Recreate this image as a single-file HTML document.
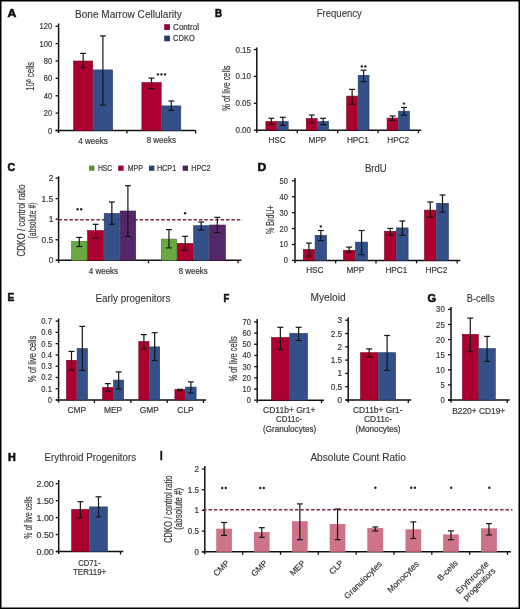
<!DOCTYPE html><html><head><meta charset="utf-8"><style>html,body{margin:0;padding:0;background:#fff;}svg{display:block;will-change:transform;}</style></head><body>
<svg width="520" height="609" viewBox="0 0 520 609" font-family='"Liberation Sans", sans-serif'>
<rect x="0" y="0" width="520" height="609" fill="#fff"/>
<text x="7.40" y="17.10" font-size="11.05" fill="#111" font-weight="bold" textLength="8.80" lengthAdjust="spacingAndGlyphs" stroke="#111" stroke-width="0.6" stroke-linejoin="round">A</text>
<text x="75.00" y="18.20" font-size="10.9" fill="#3a3a3a" textLength="106.80" lengthAdjust="spacingAndGlyphs" stroke="#333" stroke-width="0.12">Bone Marrow Cellularity</text>
<rect x="164.20" y="24.20" width="5.70" height="5.70" fill="#910028"/>
<rect x="164.20" y="35.60" width="5.70" height="5.70" fill="#263c67"/>
<text x="173.10" y="29.80" font-size="8.2" fill="#3a3a3a" textLength="25.90" lengthAdjust="spacingAndGlyphs" stroke="#3a3a3a" stroke-width="0.2">Control</text>
<text x="173.10" y="41.00" font-size="8.2" fill="#3a3a3a" textLength="21.70" lengthAdjust="spacingAndGlyphs" stroke="#3a3a3a" stroke-width="0.2">CDKO</text>
<line x1="58.60" y1="23.50" x2="58.60" y2="133.00" stroke="#111" stroke-width="1.5"/>
<line x1="55.60" y1="130.50" x2="58.60" y2="130.50" stroke="#111" stroke-width="1.3"/>
<text x="52.20" y="133.50" font-size="8.4" fill="#3a3a3a" text-anchor="end" textLength="4.20" lengthAdjust="spacingAndGlyphs" stroke="#3a3a3a" stroke-width="0.2">0</text>
<line x1="55.60" y1="113.12" x2="58.60" y2="113.12" stroke="#111" stroke-width="1.3"/>
<text x="52.20" y="116.12" font-size="8.4" fill="#3a3a3a" text-anchor="end" textLength="8.41" lengthAdjust="spacingAndGlyphs" stroke="#3a3a3a" stroke-width="0.2">20</text>
<line x1="55.60" y1="95.74" x2="58.60" y2="95.74" stroke="#111" stroke-width="1.3"/>
<text x="52.20" y="98.74" font-size="8.4" fill="#3a3a3a" text-anchor="end" textLength="8.41" lengthAdjust="spacingAndGlyphs" stroke="#3a3a3a" stroke-width="0.2">40</text>
<line x1="55.60" y1="78.36" x2="58.60" y2="78.36" stroke="#111" stroke-width="1.3"/>
<text x="52.20" y="81.36" font-size="8.4" fill="#3a3a3a" text-anchor="end" textLength="8.41" lengthAdjust="spacingAndGlyphs" stroke="#3a3a3a" stroke-width="0.2">60</text>
<line x1="55.60" y1="60.98" x2="58.60" y2="60.98" stroke="#111" stroke-width="1.3"/>
<text x="52.20" y="63.98" font-size="8.4" fill="#3a3a3a" text-anchor="end" textLength="8.41" lengthAdjust="spacingAndGlyphs" stroke="#3a3a3a" stroke-width="0.2">80</text>
<line x1="55.60" y1="43.60" x2="58.60" y2="43.60" stroke="#111" stroke-width="1.3"/>
<text x="52.20" y="46.60" font-size="8.4" fill="#3a3a3a" text-anchor="end" textLength="12.61" lengthAdjust="spacingAndGlyphs" stroke="#3a3a3a" stroke-width="0.2">100</text>
<line x1="55.60" y1="26.22" x2="58.60" y2="26.22" stroke="#111" stroke-width="1.3"/>
<text x="52.20" y="29.22" font-size="8.4" fill="#3a3a3a" text-anchor="end" textLength="12.61" lengthAdjust="spacingAndGlyphs" stroke="#3a3a3a" stroke-width="0.2">120</text>
<line x1="55.60" y1="130.50" x2="195.80" y2="130.50" stroke="#111" stroke-width="1.5"/>
<line x1="126.90" y1="130.50" x2="126.90" y2="133.50" stroke="#111" stroke-width="1.3"/>
<line x1="195.60" y1="130.50" x2="195.60" y2="133.50" stroke="#111" stroke-width="1.3"/>
<rect x="73.60" y="61.00" width="19.10" height="69.50" fill="#ab0030" stroke="#7b0022" stroke-width="0.6"/>
<rect x="93.30" y="69.90" width="19.30" height="60.60" fill="#33508a" stroke="#243963" stroke-width="0.6"/>
<rect x="141.90" y="82.60" width="19.30" height="47.90" fill="#ab0030" stroke="#7b0022" stroke-width="0.6"/>
<rect x="161.80" y="105.90" width="19.00" height="24.60" fill="#33508a" stroke="#243963" stroke-width="0.6"/>
<line x1="83.15" y1="53.40" x2="83.15" y2="67.60" stroke="#161616" stroke-width="1.2"/>
<line x1="80.20" y1="53.40" x2="86.10" y2="53.40" stroke="#161616" stroke-width="1.2"/>
<line x1="80.20" y1="67.60" x2="86.10" y2="67.60" stroke="#161616" stroke-width="1.2"/>
<line x1="102.90" y1="35.90" x2="102.90" y2="105.20" stroke="#161616" stroke-width="1.2"/>
<line x1="99.95" y1="35.90" x2="105.85" y2="35.90" stroke="#161616" stroke-width="1.2"/>
<line x1="99.95" y1="105.20" x2="105.85" y2="105.20" stroke="#161616" stroke-width="1.2"/>
<line x1="151.50" y1="78.10" x2="151.50" y2="88.60" stroke="#161616" stroke-width="1.2"/>
<line x1="148.55" y1="78.10" x2="154.45" y2="78.10" stroke="#161616" stroke-width="1.2"/>
<line x1="148.55" y1="88.60" x2="154.45" y2="88.60" stroke="#161616" stroke-width="1.2"/>
<line x1="171.30" y1="101.00" x2="171.30" y2="110.40" stroke="#161616" stroke-width="1.2"/>
<line x1="168.35" y1="101.00" x2="174.25" y2="101.00" stroke="#161616" stroke-width="1.2"/>
<line x1="168.35" y1="110.40" x2="174.25" y2="110.40" stroke="#161616" stroke-width="1.2"/>
<circle cx="157.90" cy="74.40" r="1.2" fill="#222"/>
<circle cx="161.50" cy="74.40" r="1.2" fill="#222"/>
<circle cx="165.10" cy="74.40" r="1.2" fill="#222"/>
<text x="78.30" y="143.60" font-size="8.6" fill="#3a3a3a" textLength="29.50" lengthAdjust="spacingAndGlyphs" stroke="#3a3a3a" stroke-width="0.2">4 weeks</text>
<text x="146.70" y="143.40" font-size="8.6" fill="#3a3a3a" textLength="29.30" lengthAdjust="spacingAndGlyphs" stroke="#3a3a3a" stroke-width="0.2">8 weeks</text>
<text x="33.6" y="76.35" font-size="11" stroke="#3a3a3a" stroke-width="0.2" fill="#3a3a3a" text-anchor="middle" transform="rotate(-90 33.6 76.35)" textLength="28.9" lengthAdjust="spacingAndGlyphs">10<tspan font-size="8" dy="-2.9">6</tspan><tspan dy="2.9"> cells</tspan></text>
<text x="214.90" y="16.90" font-size="11.05" fill="#111" font-weight="bold" textLength="7.00" lengthAdjust="spacingAndGlyphs" stroke="#111" stroke-width="0.6" stroke-linejoin="round">B</text>
<text x="316.70" y="17.30" font-size="10.46" fill="#3a3a3a" textLength="45.20" lengthAdjust="spacingAndGlyphs" stroke="#333" stroke-width="0.12">Frequency</text>
<line x1="256.80" y1="47.50" x2="256.80" y2="132.70" stroke="#111" stroke-width="1.5"/>
<line x1="253.80" y1="130.20" x2="256.80" y2="130.20" stroke="#111" stroke-width="1.3"/>
<text x="251.00" y="133.20" font-size="8.4" fill="#3a3a3a" text-anchor="end" textLength="15.53" lengthAdjust="spacingAndGlyphs" stroke="#3a3a3a" stroke-width="0.2">0.00</text>
<line x1="253.80" y1="103.30" x2="256.80" y2="103.30" stroke="#111" stroke-width="1.3"/>
<text x="251.00" y="106.30" font-size="8.4" fill="#3a3a3a" text-anchor="end" textLength="15.53" lengthAdjust="spacingAndGlyphs" stroke="#3a3a3a" stroke-width="0.2">0.05</text>
<line x1="253.80" y1="76.40" x2="256.80" y2="76.40" stroke="#111" stroke-width="1.3"/>
<text x="251.00" y="79.40" font-size="8.4" fill="#3a3a3a" text-anchor="end" textLength="15.53" lengthAdjust="spacingAndGlyphs" stroke="#3a3a3a" stroke-width="0.2">0.10</text>
<line x1="253.80" y1="49.50" x2="256.80" y2="49.50" stroke="#111" stroke-width="1.3"/>
<text x="251.00" y="52.50" font-size="8.4" fill="#3a3a3a" text-anchor="end" textLength="15.53" lengthAdjust="spacingAndGlyphs" stroke="#3a3a3a" stroke-width="0.2">0.15</text>
<line x1="256.80" y1="130.20" x2="421.30" y2="130.20" stroke="#111" stroke-width="1.5"/>
<line x1="297.30" y1="130.20" x2="297.30" y2="133.20" stroke="#111" stroke-width="1.3"/>
<line x1="337.70" y1="130.20" x2="337.70" y2="133.20" stroke="#111" stroke-width="1.3"/>
<line x1="378.00" y1="130.20" x2="378.00" y2="133.20" stroke="#111" stroke-width="1.3"/>
<line x1="418.40" y1="130.20" x2="418.40" y2="133.20" stroke="#111" stroke-width="1.3"/>
<rect x="265.90" y="121.50" width="10.85" height="8.70" fill="#ab0030" stroke="#7b0022" stroke-width="0.6"/>
<rect x="277.35" y="121.50" width="10.85" height="8.70" fill="#33508a" stroke="#243963" stroke-width="0.6"/>
<line x1="271.32" y1="118.30" x2="271.32" y2="124.40" stroke="#161616" stroke-width="1.2"/>
<line x1="268.38" y1="118.30" x2="274.27" y2="118.30" stroke="#161616" stroke-width="1.2"/>
<line x1="268.38" y1="124.40" x2="274.27" y2="124.40" stroke="#161616" stroke-width="1.2"/>
<line x1="282.78" y1="117.30" x2="282.78" y2="125.40" stroke="#161616" stroke-width="1.2"/>
<line x1="279.83" y1="117.30" x2="285.73" y2="117.30" stroke="#161616" stroke-width="1.2"/>
<line x1="279.83" y1="125.40" x2="285.73" y2="125.40" stroke="#161616" stroke-width="1.2"/>
<rect x="306.30" y="118.60" width="10.85" height="11.60" fill="#ab0030" stroke="#7b0022" stroke-width="0.6"/>
<rect x="317.75" y="121.50" width="10.85" height="8.70" fill="#33508a" stroke="#243963" stroke-width="0.6"/>
<line x1="311.72" y1="115.00" x2="311.72" y2="123.00" stroke="#161616" stroke-width="1.2"/>
<line x1="308.77" y1="115.00" x2="314.67" y2="115.00" stroke="#161616" stroke-width="1.2"/>
<line x1="308.77" y1="123.00" x2="314.67" y2="123.00" stroke="#161616" stroke-width="1.2"/>
<line x1="323.18" y1="118.30" x2="323.18" y2="124.60" stroke="#161616" stroke-width="1.2"/>
<line x1="320.23" y1="118.30" x2="326.12" y2="118.30" stroke="#161616" stroke-width="1.2"/>
<line x1="320.23" y1="124.60" x2="326.12" y2="124.60" stroke="#161616" stroke-width="1.2"/>
<rect x="346.70" y="96.10" width="10.85" height="34.10" fill="#ab0030" stroke="#7b0022" stroke-width="0.6"/>
<rect x="358.15" y="75.30" width="10.85" height="54.90" fill="#33508a" stroke="#243963" stroke-width="0.6"/>
<line x1="352.12" y1="89.40" x2="352.12" y2="104.20" stroke="#161616" stroke-width="1.2"/>
<line x1="349.18" y1="89.40" x2="355.07" y2="89.40" stroke="#161616" stroke-width="1.2"/>
<line x1="349.18" y1="104.20" x2="355.07" y2="104.20" stroke="#161616" stroke-width="1.2"/>
<line x1="363.58" y1="70.20" x2="363.58" y2="81.70" stroke="#161616" stroke-width="1.2"/>
<line x1="360.63" y1="70.20" x2="366.53" y2="70.20" stroke="#161616" stroke-width="1.2"/>
<line x1="360.63" y1="81.70" x2="366.53" y2="81.70" stroke="#161616" stroke-width="1.2"/>
<rect x="387.10" y="118.10" width="10.85" height="12.10" fill="#ab0030" stroke="#7b0022" stroke-width="0.6"/>
<rect x="398.55" y="111.20" width="10.85" height="19.00" fill="#33508a" stroke="#243963" stroke-width="0.6"/>
<line x1="392.52" y1="116.00" x2="392.52" y2="120.40" stroke="#161616" stroke-width="1.2"/>
<line x1="389.57" y1="116.00" x2="395.47" y2="116.00" stroke="#161616" stroke-width="1.2"/>
<line x1="389.57" y1="120.40" x2="395.47" y2="120.40" stroke="#161616" stroke-width="1.2"/>
<line x1="403.98" y1="107.50" x2="403.98" y2="115.20" stroke="#161616" stroke-width="1.2"/>
<line x1="401.03" y1="107.50" x2="406.93" y2="107.50" stroke="#161616" stroke-width="1.2"/>
<line x1="401.03" y1="115.20" x2="406.93" y2="115.20" stroke="#161616" stroke-width="1.2"/>
<circle cx="361.80" cy="66.40" r="1.2" fill="#222"/>
<circle cx="365.40" cy="66.40" r="1.2" fill="#222"/>
<circle cx="403.90" cy="103.60" r="1.2" fill="#222"/>
<text x="277.05" y="143.40" font-size="8.2" fill="#3a3a3a" text-anchor="middle" stroke="#3a3a3a" stroke-width="0.2">HSC</text>
<text x="317.45" y="143.40" font-size="8.2" fill="#3a3a3a" text-anchor="middle" stroke="#3a3a3a" stroke-width="0.2">MPP</text>
<text x="357.85" y="143.40" font-size="8.2" fill="#3a3a3a" text-anchor="middle" stroke="#3a3a3a" stroke-width="0.2">HPC1</text>
<text x="398.25" y="143.40" font-size="8.2" fill="#3a3a3a" text-anchor="middle" stroke="#3a3a3a" stroke-width="0.2">HPC2</text>
<text x="230.30" y="88.05" font-size="11" fill="#3a3a3a" text-anchor="middle" textLength="45.30" lengthAdjust="spacingAndGlyphs" transform="rotate(-90 230.30 88.05)" stroke="#3a3a3a" stroke-width="0.2">% of live cells</text>
<text x="7.60" y="170.60" font-size="11.77" fill="#111" font-weight="bold" textLength="7.60" lengthAdjust="spacingAndGlyphs" stroke="#111" stroke-width="0.6" stroke-linejoin="round">C</text>
<rect x="89.00" y="165.60" width="5.40" height="5.20" fill="#5d9338"/>
<text x="97.90" y="170.80" font-size="8.2" fill="#3a3a3a" textLength="14.40" lengthAdjust="spacingAndGlyphs" stroke="#3a3a3a" stroke-width="0.2">HSC</text>
<rect x="118.20" y="165.60" width="5.40" height="5.20" fill="#96002a"/>
<text x="127.70" y="170.80" font-size="8.2" fill="#3a3a3a" textLength="15.10" lengthAdjust="spacingAndGlyphs" stroke="#3a3a3a" stroke-width="0.2">MPP</text>
<rect x="149.00" y="165.60" width="5.40" height="5.20" fill="#2c4679"/>
<text x="156.90" y="170.80" font-size="8.2" fill="#3a3a3a" textLength="19.30" lengthAdjust="spacingAndGlyphs" stroke="#3a3a3a" stroke-width="0.2">HCP1</text>
<rect x="182.70" y="165.60" width="5.30" height="5.20" fill="#4b225b"/>
<text x="191.30" y="170.80" font-size="8.2" fill="#3a3a3a" textLength="19.30" lengthAdjust="spacingAndGlyphs" stroke="#3a3a3a" stroke-width="0.2">HPC2</text>
<line x1="58.60" y1="176.30" x2="58.60" y2="262.80" stroke="#111" stroke-width="1.5"/>
<line x1="55.60" y1="260.30" x2="58.60" y2="260.30" stroke="#111" stroke-width="1.3"/>
<text x="53.30" y="263.30" font-size="8.4" fill="#3a3a3a" text-anchor="end" textLength="4.67" lengthAdjust="spacingAndGlyphs" stroke="#3a3a3a" stroke-width="0.2">0</text>
<line x1="55.60" y1="239.75" x2="58.60" y2="239.75" stroke="#111" stroke-width="1.3"/>
<text x="53.30" y="242.75" font-size="8.4" fill="#3a3a3a" text-anchor="end" textLength="11.68" lengthAdjust="spacingAndGlyphs" stroke="#3a3a3a" stroke-width="0.2">0.5</text>
<line x1="55.60" y1="219.20" x2="58.60" y2="219.20" stroke="#111" stroke-width="1.3"/>
<text x="53.30" y="222.20" font-size="8.4" fill="#3a3a3a" text-anchor="end" textLength="4.67" lengthAdjust="spacingAndGlyphs" stroke="#3a3a3a" stroke-width="0.2">1</text>
<line x1="55.60" y1="198.65" x2="58.60" y2="198.65" stroke="#111" stroke-width="1.3"/>
<text x="53.30" y="201.65" font-size="8.4" fill="#3a3a3a" text-anchor="end" textLength="11.68" lengthAdjust="spacingAndGlyphs" stroke="#3a3a3a" stroke-width="0.2">1.5</text>
<line x1="55.60" y1="178.10" x2="58.60" y2="178.10" stroke="#111" stroke-width="1.3"/>
<text x="53.30" y="181.10" font-size="8.4" fill="#3a3a3a" text-anchor="end" textLength="4.67" lengthAdjust="spacingAndGlyphs" stroke="#3a3a3a" stroke-width="0.2">2</text>
<line x1="58.60" y1="219.70" x2="242.30" y2="219.70" stroke="#7a2e4a" stroke-width="1.5" stroke-dasharray="3.5 1.9"/>
<line x1="56.00" y1="260.30" x2="241.40" y2="260.30" stroke="#111" stroke-width="1.5"/>
<line x1="148.50" y1="260.30" x2="148.50" y2="263.30" stroke="#111" stroke-width="1.3"/>
<line x1="238.10" y1="260.30" x2="238.10" y2="263.30" stroke="#111" stroke-width="1.3"/>
<rect x="71.50" y="241.40" width="15.50" height="18.90" fill="#6aa840" stroke="#4c782e" stroke-width="0.6"/>
<rect x="87.60" y="230.60" width="16.00" height="29.70" fill="#ab0030" stroke="#7b0022" stroke-width="0.6"/>
<rect x="104.20" y="213.40" width="15.30" height="46.90" fill="#33508a" stroke="#243963" stroke-width="0.6"/>
<rect x="120.10" y="211.00" width="15.60" height="49.30" fill="#562768" stroke="#3d1c4a" stroke-width="0.6"/>
<rect x="161.30" y="239.10" width="15.30" height="21.20" fill="#6aa840" stroke="#4c782e" stroke-width="0.6"/>
<rect x="177.20" y="243.40" width="15.90" height="16.90" fill="#ab0030" stroke="#7b0022" stroke-width="0.6"/>
<rect x="193.70" y="225.70" width="14.90" height="34.60" fill="#33508a" stroke="#243963" stroke-width="0.6"/>
<rect x="209.20" y="225.00" width="16.20" height="35.30" fill="#562768" stroke="#3d1c4a" stroke-width="0.6"/>
<line x1="79.25" y1="237.40" x2="79.25" y2="246.50" stroke="#161616" stroke-width="1.2"/>
<line x1="76.30" y1="237.40" x2="82.20" y2="237.40" stroke="#161616" stroke-width="1.2"/>
<line x1="76.30" y1="246.50" x2="82.20" y2="246.50" stroke="#161616" stroke-width="1.2"/>
<line x1="95.60" y1="224.30" x2="95.60" y2="238.20" stroke="#161616" stroke-width="1.2"/>
<line x1="92.65" y1="224.30" x2="98.55" y2="224.30" stroke="#161616" stroke-width="1.2"/>
<line x1="92.65" y1="238.20" x2="98.55" y2="238.20" stroke="#161616" stroke-width="1.2"/>
<line x1="111.85" y1="202.00" x2="111.85" y2="224.30" stroke="#161616" stroke-width="1.2"/>
<line x1="108.90" y1="202.00" x2="114.80" y2="202.00" stroke="#161616" stroke-width="1.2"/>
<line x1="108.90" y1="224.30" x2="114.80" y2="224.30" stroke="#161616" stroke-width="1.2"/>
<line x1="127.90" y1="185.70" x2="127.90" y2="236.50" stroke="#161616" stroke-width="1.2"/>
<line x1="124.95" y1="185.70" x2="130.85" y2="185.70" stroke="#161616" stroke-width="1.2"/>
<line x1="124.95" y1="236.50" x2="130.85" y2="236.50" stroke="#161616" stroke-width="1.2"/>
<line x1="168.95" y1="229.60" x2="168.95" y2="247.90" stroke="#161616" stroke-width="1.2"/>
<line x1="166.00" y1="229.60" x2="171.90" y2="229.60" stroke="#161616" stroke-width="1.2"/>
<line x1="166.00" y1="247.90" x2="171.90" y2="247.90" stroke="#161616" stroke-width="1.2"/>
<line x1="185.15" y1="236.30" x2="185.15" y2="250.40" stroke="#161616" stroke-width="1.2"/>
<line x1="182.20" y1="236.30" x2="188.10" y2="236.30" stroke="#161616" stroke-width="1.2"/>
<line x1="182.20" y1="250.40" x2="188.10" y2="250.40" stroke="#161616" stroke-width="1.2"/>
<line x1="201.15" y1="222.00" x2="201.15" y2="230.00" stroke="#161616" stroke-width="1.2"/>
<line x1="198.20" y1="222.00" x2="204.10" y2="222.00" stroke="#161616" stroke-width="1.2"/>
<line x1="198.20" y1="230.00" x2="204.10" y2="230.00" stroke="#161616" stroke-width="1.2"/>
<line x1="217.30" y1="217.30" x2="217.30" y2="232.60" stroke="#161616" stroke-width="1.2"/>
<line x1="214.35" y1="217.30" x2="220.25" y2="217.30" stroke="#161616" stroke-width="1.2"/>
<line x1="214.35" y1="232.60" x2="220.25" y2="232.60" stroke="#161616" stroke-width="1.2"/>
<circle cx="77.60" cy="209.20" r="1.2" fill="#222"/>
<circle cx="81.20" cy="209.20" r="1.2" fill="#222"/>
<circle cx="185.10" cy="213.30" r="1.2" fill="#222"/>
<text x="88.80" y="273.70" font-size="8.6" fill="#3a3a3a" textLength="29.30" lengthAdjust="spacingAndGlyphs" stroke="#3a3a3a" stroke-width="0.2">4 weeks</text>
<text x="178.80" y="273.50" font-size="8.6" fill="#3a3a3a" textLength="28.80" lengthAdjust="spacingAndGlyphs" stroke="#3a3a3a" stroke-width="0.2">8 weeks</text>
<text x="25.00" y="220.50" font-size="10.4" fill="#3a3a3a" text-anchor="middle" textLength="72.20" lengthAdjust="spacingAndGlyphs" transform="rotate(-90 25.00 220.50)" stroke="#3a3a3a" stroke-width="0.2">CDKO / control ratio</text>
<text x="36.20" y="220.55" font-size="10.4" fill="#3a3a3a" text-anchor="middle" textLength="36.10" lengthAdjust="spacingAndGlyphs" transform="rotate(-90 36.20 220.55)" stroke="#3a3a3a" stroke-width="0.2">(absolute #)</text>
<text x="257.60" y="171.00" font-size="11.77" fill="#111" font-weight="bold" textLength="8.80" lengthAdjust="spacingAndGlyphs" stroke="#111" stroke-width="0.6" stroke-linejoin="round">D</text>
<text x="365.00" y="172.30" font-size="10.36" fill="#3a3a3a" textLength="21.70" lengthAdjust="spacingAndGlyphs" stroke="#333" stroke-width="0.12">BrdU</text>
<line x1="295.00" y1="178.00" x2="295.00" y2="262.90" stroke="#111" stroke-width="1.5"/>
<line x1="292.00" y1="260.40" x2="295.00" y2="260.40" stroke="#111" stroke-width="1.3"/>
<text x="287.80" y="263.40" font-size="8.4" fill="#3a3a3a" text-anchor="end" textLength="4.16" lengthAdjust="spacingAndGlyphs" stroke="#3a3a3a" stroke-width="0.2">0</text>
<line x1="292.00" y1="244.48" x2="295.00" y2="244.48" stroke="#111" stroke-width="1.3"/>
<text x="287.80" y="247.48" font-size="8.4" fill="#3a3a3a" text-anchor="end" textLength="8.31" lengthAdjust="spacingAndGlyphs" stroke="#3a3a3a" stroke-width="0.2">10</text>
<line x1="292.00" y1="228.56" x2="295.00" y2="228.56" stroke="#111" stroke-width="1.3"/>
<text x="287.80" y="231.56" font-size="8.4" fill="#3a3a3a" text-anchor="end" textLength="8.31" lengthAdjust="spacingAndGlyphs" stroke="#3a3a3a" stroke-width="0.2">20</text>
<line x1="292.00" y1="212.64" x2="295.00" y2="212.64" stroke="#111" stroke-width="1.3"/>
<text x="287.80" y="215.64" font-size="8.4" fill="#3a3a3a" text-anchor="end" textLength="8.31" lengthAdjust="spacingAndGlyphs" stroke="#3a3a3a" stroke-width="0.2">30</text>
<line x1="292.00" y1="196.72" x2="295.00" y2="196.72" stroke="#111" stroke-width="1.3"/>
<text x="287.80" y="199.72" font-size="8.4" fill="#3a3a3a" text-anchor="end" textLength="8.31" lengthAdjust="spacingAndGlyphs" stroke="#3a3a3a" stroke-width="0.2">40</text>
<line x1="292.00" y1="180.80" x2="295.00" y2="180.80" stroke="#111" stroke-width="1.3"/>
<text x="287.80" y="183.80" font-size="8.4" fill="#3a3a3a" text-anchor="end" textLength="8.31" lengthAdjust="spacingAndGlyphs" stroke="#3a3a3a" stroke-width="0.2">50</text>
<line x1="295.00" y1="260.40" x2="460.40" y2="260.40" stroke="#111" stroke-width="1.5"/>
<line x1="335.60" y1="260.40" x2="335.60" y2="263.40" stroke="#111" stroke-width="1.3"/>
<line x1="376.00" y1="260.40" x2="376.00" y2="263.40" stroke="#111" stroke-width="1.3"/>
<line x1="416.60" y1="260.40" x2="416.60" y2="263.40" stroke="#111" stroke-width="1.3"/>
<line x1="457.20" y1="260.40" x2="457.20" y2="263.40" stroke="#111" stroke-width="1.3"/>
<rect x="303.30" y="249.50" width="11.20" height="10.90" fill="#ab0030" stroke="#7b0022" stroke-width="0.6"/>
<rect x="315.10" y="235.30" width="11.50" height="25.10" fill="#33508a" stroke="#243963" stroke-width="0.6"/>
<rect x="343.40" y="250.30" width="11.50" height="10.10" fill="#ab0030" stroke="#7b0022" stroke-width="0.6"/>
<rect x="355.50" y="242.10" width="12.10" height="18.30" fill="#33508a" stroke="#243963" stroke-width="0.6"/>
<rect x="384.50" y="231.30" width="11.50" height="29.10" fill="#ab0030" stroke="#7b0022" stroke-width="0.6"/>
<rect x="396.60" y="227.90" width="11.50" height="32.50" fill="#33508a" stroke="#243963" stroke-width="0.6"/>
<rect x="424.50" y="210.10" width="11.50" height="50.30" fill="#ab0030" stroke="#7b0022" stroke-width="0.6"/>
<rect x="436.60" y="203.30" width="11.80" height="57.10" fill="#33508a" stroke="#243963" stroke-width="0.6"/>
<line x1="308.90" y1="243.10" x2="308.90" y2="256.10" stroke="#161616" stroke-width="1.2"/>
<line x1="305.95" y1="243.10" x2="311.85" y2="243.10" stroke="#161616" stroke-width="1.2"/>
<line x1="305.95" y1="256.10" x2="311.85" y2="256.10" stroke="#161616" stroke-width="1.2"/>
<line x1="320.85" y1="230.50" x2="320.85" y2="240.60" stroke="#161616" stroke-width="1.2"/>
<line x1="317.90" y1="230.50" x2="323.80" y2="230.50" stroke="#161616" stroke-width="1.2"/>
<line x1="317.90" y1="240.60" x2="323.80" y2="240.60" stroke="#161616" stroke-width="1.2"/>
<line x1="349.15" y1="247.10" x2="349.15" y2="252.30" stroke="#161616" stroke-width="1.2"/>
<line x1="346.20" y1="247.10" x2="352.10" y2="247.10" stroke="#161616" stroke-width="1.2"/>
<line x1="346.20" y1="252.30" x2="352.10" y2="252.30" stroke="#161616" stroke-width="1.2"/>
<line x1="361.55" y1="230.50" x2="361.55" y2="254.70" stroke="#161616" stroke-width="1.2"/>
<line x1="358.60" y1="230.50" x2="364.50" y2="230.50" stroke="#161616" stroke-width="1.2"/>
<line x1="358.60" y1="254.70" x2="364.50" y2="254.70" stroke="#161616" stroke-width="1.2"/>
<line x1="390.25" y1="228.40" x2="390.25" y2="235.00" stroke="#161616" stroke-width="1.2"/>
<line x1="387.30" y1="228.40" x2="393.20" y2="228.40" stroke="#161616" stroke-width="1.2"/>
<line x1="387.30" y1="235.00" x2="393.20" y2="235.00" stroke="#161616" stroke-width="1.2"/>
<line x1="402.35" y1="221.00" x2="402.35" y2="235.40" stroke="#161616" stroke-width="1.2"/>
<line x1="399.40" y1="221.00" x2="405.30" y2="221.00" stroke="#161616" stroke-width="1.2"/>
<line x1="399.40" y1="235.40" x2="405.30" y2="235.40" stroke="#161616" stroke-width="1.2"/>
<line x1="430.25" y1="202.00" x2="430.25" y2="217.20" stroke="#161616" stroke-width="1.2"/>
<line x1="427.30" y1="202.00" x2="433.20" y2="202.00" stroke="#161616" stroke-width="1.2"/>
<line x1="427.30" y1="217.20" x2="433.20" y2="217.20" stroke="#161616" stroke-width="1.2"/>
<line x1="442.50" y1="195.00" x2="442.50" y2="212.00" stroke="#161616" stroke-width="1.2"/>
<line x1="439.55" y1="195.00" x2="445.45" y2="195.00" stroke="#161616" stroke-width="1.2"/>
<line x1="439.55" y1="212.00" x2="445.45" y2="212.00" stroke="#161616" stroke-width="1.2"/>
<circle cx="320.80" cy="226.40" r="1.2" fill="#222"/>
<text x="314.80" y="273.40" font-size="8.2" fill="#3a3a3a" text-anchor="middle" stroke="#3a3a3a" stroke-width="0.2">HSC</text>
<text x="355.40" y="273.40" font-size="8.2" fill="#3a3a3a" text-anchor="middle" stroke="#3a3a3a" stroke-width="0.2">MPP</text>
<text x="396.30" y="273.40" font-size="8.2" fill="#3a3a3a" text-anchor="middle" stroke="#3a3a3a" stroke-width="0.2">HPC1</text>
<text x="436.40" y="273.40" font-size="8.2" fill="#3a3a3a" text-anchor="middle" stroke="#3a3a3a" stroke-width="0.2">HPC2</text>
<text x="274.20" y="219.70" font-size="11" fill="#3a3a3a" text-anchor="middle" textLength="28.80" lengthAdjust="spacingAndGlyphs" transform="rotate(-90 274.20 219.70)" stroke="#3a3a3a" stroke-width="0.2">% BrdU+</text>
<text x="7.60" y="301.40" font-size="11.34" fill="#111" font-weight="bold" textLength="6.80" lengthAdjust="spacingAndGlyphs" stroke="#111" stroke-width="0.6" stroke-linejoin="round">E</text>
<text x="95.40" y="301.90" font-size="10.46" fill="#3a3a3a" textLength="75.00" lengthAdjust="spacingAndGlyphs" stroke="#333" stroke-width="0.12">Early progenitors</text>
<line x1="58.60" y1="318.50" x2="58.60" y2="402.50" stroke="#111" stroke-width="1.5"/>
<line x1="55.60" y1="400.00" x2="58.60" y2="400.00" stroke="#111" stroke-width="1.3"/>
<text x="52.00" y="403.00" font-size="8.4" fill="#3a3a3a" text-anchor="end" textLength="4.25" lengthAdjust="spacingAndGlyphs" stroke="#3a3a3a" stroke-width="0.2">0</text>
<line x1="55.60" y1="388.73" x2="58.60" y2="388.73" stroke="#111" stroke-width="1.3"/>
<text x="52.00" y="391.73" font-size="8.4" fill="#3a3a3a" text-anchor="end" textLength="10.63" lengthAdjust="spacingAndGlyphs" stroke="#3a3a3a" stroke-width="0.2">0.1</text>
<line x1="55.60" y1="377.46" x2="58.60" y2="377.46" stroke="#111" stroke-width="1.3"/>
<text x="52.00" y="380.46" font-size="8.4" fill="#3a3a3a" text-anchor="end" textLength="10.63" lengthAdjust="spacingAndGlyphs" stroke="#3a3a3a" stroke-width="0.2">0.2</text>
<line x1="55.60" y1="366.19" x2="58.60" y2="366.19" stroke="#111" stroke-width="1.3"/>
<text x="52.00" y="369.19" font-size="8.4" fill="#3a3a3a" text-anchor="end" textLength="10.63" lengthAdjust="spacingAndGlyphs" stroke="#3a3a3a" stroke-width="0.2">0.3</text>
<line x1="55.60" y1="354.92" x2="58.60" y2="354.92" stroke="#111" stroke-width="1.3"/>
<text x="52.00" y="357.92" font-size="8.4" fill="#3a3a3a" text-anchor="end" textLength="10.63" lengthAdjust="spacingAndGlyphs" stroke="#3a3a3a" stroke-width="0.2">0.4</text>
<line x1="55.60" y1="343.65" x2="58.60" y2="343.65" stroke="#111" stroke-width="1.3"/>
<text x="52.00" y="346.65" font-size="8.4" fill="#3a3a3a" text-anchor="end" textLength="10.63" lengthAdjust="spacingAndGlyphs" stroke="#3a3a3a" stroke-width="0.2">0.5</text>
<line x1="55.60" y1="332.38" x2="58.60" y2="332.38" stroke="#111" stroke-width="1.3"/>
<text x="52.00" y="335.38" font-size="8.4" fill="#3a3a3a" text-anchor="end" textLength="10.63" lengthAdjust="spacingAndGlyphs" stroke="#3a3a3a" stroke-width="0.2">0.6</text>
<line x1="55.60" y1="321.11" x2="58.60" y2="321.11" stroke="#111" stroke-width="1.3"/>
<text x="52.00" y="324.11" font-size="8.4" fill="#3a3a3a" text-anchor="end" textLength="10.63" lengthAdjust="spacingAndGlyphs" stroke="#3a3a3a" stroke-width="0.2">0.7</text>
<line x1="56.00" y1="400.00" x2="206.00" y2="400.00" stroke="#111" stroke-width="1.5"/>
<line x1="94.40" y1="400.00" x2="94.40" y2="403.00" stroke="#111" stroke-width="1.3"/>
<line x1="130.90" y1="400.00" x2="130.90" y2="403.00" stroke="#111" stroke-width="1.3"/>
<line x1="167.20" y1="400.00" x2="167.20" y2="403.00" stroke="#111" stroke-width="1.3"/>
<line x1="203.50" y1="400.00" x2="203.50" y2="403.00" stroke="#111" stroke-width="1.3"/>
<rect x="66.50" y="360.30" width="10.00" height="39.70" fill="#ab0030" stroke="#7b0022" stroke-width="0.6"/>
<rect x="77.10" y="348.60" width="10.40" height="51.40" fill="#33508a" stroke="#243963" stroke-width="0.6"/>
<rect x="102.60" y="387.50" width="10.40" height="12.50" fill="#ab0030" stroke="#7b0022" stroke-width="0.6"/>
<rect x="113.60" y="380.10" width="10.10" height="19.90" fill="#33508a" stroke="#243963" stroke-width="0.6"/>
<rect x="138.80" y="341.50" width="10.20" height="58.50" fill="#ab0030" stroke="#7b0022" stroke-width="0.6"/>
<rect x="149.60" y="346.90" width="10.10" height="53.10" fill="#33508a" stroke="#243963" stroke-width="0.6"/>
<rect x="174.90" y="389.60" width="10.10" height="10.40" fill="#ab0030" stroke="#7b0022" stroke-width="0.6"/>
<rect x="185.60" y="387.10" width="10.50" height="12.90" fill="#33508a" stroke="#243963" stroke-width="0.6"/>
<line x1="71.50" y1="351.40" x2="71.50" y2="370.00" stroke="#161616" stroke-width="1.2"/>
<line x1="68.55" y1="351.40" x2="74.45" y2="351.40" stroke="#161616" stroke-width="1.2"/>
<line x1="68.55" y1="370.00" x2="74.45" y2="370.00" stroke="#161616" stroke-width="1.2"/>
<line x1="82.30" y1="326.40" x2="82.30" y2="370.40" stroke="#161616" stroke-width="1.2"/>
<line x1="79.35" y1="326.40" x2="85.25" y2="326.40" stroke="#161616" stroke-width="1.2"/>
<line x1="79.35" y1="370.40" x2="85.25" y2="370.40" stroke="#161616" stroke-width="1.2"/>
<line x1="107.80" y1="383.60" x2="107.80" y2="391.30" stroke="#161616" stroke-width="1.2"/>
<line x1="104.85" y1="383.60" x2="110.75" y2="383.60" stroke="#161616" stroke-width="1.2"/>
<line x1="104.85" y1="391.30" x2="110.75" y2="391.30" stroke="#161616" stroke-width="1.2"/>
<line x1="118.65" y1="371.90" x2="118.65" y2="389.10" stroke="#161616" stroke-width="1.2"/>
<line x1="115.70" y1="371.90" x2="121.60" y2="371.90" stroke="#161616" stroke-width="1.2"/>
<line x1="115.70" y1="389.10" x2="121.60" y2="389.10" stroke="#161616" stroke-width="1.2"/>
<line x1="143.90" y1="334.60" x2="143.90" y2="349.00" stroke="#161616" stroke-width="1.2"/>
<line x1="140.95" y1="334.60" x2="146.85" y2="334.60" stroke="#161616" stroke-width="1.2"/>
<line x1="140.95" y1="349.00" x2="146.85" y2="349.00" stroke="#161616" stroke-width="1.2"/>
<line x1="154.65" y1="332.70" x2="154.65" y2="360.60" stroke="#161616" stroke-width="1.2"/>
<line x1="151.70" y1="332.70" x2="157.60" y2="332.70" stroke="#161616" stroke-width="1.2"/>
<line x1="151.70" y1="360.60" x2="157.60" y2="360.60" stroke="#161616" stroke-width="1.2"/>
<line x1="179.95" y1="389.30" x2="179.95" y2="390.60" stroke="#161616" stroke-width="1.2"/>
<line x1="177.00" y1="389.30" x2="182.90" y2="389.30" stroke="#161616" stroke-width="1.2"/>
<line x1="177.00" y1="390.60" x2="182.90" y2="390.60" stroke="#161616" stroke-width="1.2"/>
<line x1="190.85" y1="381.90" x2="190.85" y2="392.90" stroke="#161616" stroke-width="1.2"/>
<line x1="187.90" y1="381.90" x2="193.80" y2="381.90" stroke="#161616" stroke-width="1.2"/>
<line x1="187.90" y1="392.90" x2="193.80" y2="392.90" stroke="#161616" stroke-width="1.2"/>
<text x="76.80" y="413.40" font-size="8.4" fill="#3a3a3a" text-anchor="middle" stroke="#3a3a3a" stroke-width="0.2">CMP</text>
<text x="113.00" y="413.40" font-size="8.4" fill="#3a3a3a" text-anchor="middle" stroke="#3a3a3a" stroke-width="0.2">MEP</text>
<text x="149.30" y="413.40" font-size="8.4" fill="#3a3a3a" text-anchor="middle" stroke="#3a3a3a" stroke-width="0.2">GMP</text>
<text x="185.50" y="413.40" font-size="8.4" fill="#3a3a3a" text-anchor="middle" stroke="#3a3a3a" stroke-width="0.2">CLP</text>
<text x="36.50" y="358.95" font-size="11" fill="#3a3a3a" text-anchor="middle" textLength="46.50" lengthAdjust="spacingAndGlyphs" transform="rotate(-90 36.50 358.95)" stroke="#3a3a3a" stroke-width="0.2">% of live cells</text>
<text x="223.40" y="301.60" font-size="10.76" fill="#111" font-weight="bold" textLength="5.80" lengthAdjust="spacingAndGlyphs" stroke="#111" stroke-width="0.6" stroke-linejoin="round">F</text>
<text x="310.40" y="301.40" font-size="10.46" fill="#3a3a3a" textLength="35.20" lengthAdjust="spacingAndGlyphs" stroke="#333" stroke-width="0.12">Myeloid</text>
<line x1="257.20" y1="319.00" x2="257.20" y2="402.70" stroke="#111" stroke-width="1.5"/>
<line x1="254.20" y1="400.20" x2="257.20" y2="400.20" stroke="#111" stroke-width="1.3"/>
<text x="250.90" y="403.20" font-size="8.4" fill="#3a3a3a" text-anchor="end" textLength="4.20" lengthAdjust="spacingAndGlyphs" stroke="#3a3a3a" stroke-width="0.2">0</text>
<line x1="254.20" y1="389.01" x2="257.20" y2="389.01" stroke="#111" stroke-width="1.3"/>
<text x="250.90" y="392.01" font-size="8.4" fill="#3a3a3a" text-anchor="end" textLength="8.41" lengthAdjust="spacingAndGlyphs" stroke="#3a3a3a" stroke-width="0.2">10</text>
<line x1="254.20" y1="377.83" x2="257.20" y2="377.83" stroke="#111" stroke-width="1.3"/>
<text x="250.90" y="380.83" font-size="8.4" fill="#3a3a3a" text-anchor="end" textLength="8.41" lengthAdjust="spacingAndGlyphs" stroke="#3a3a3a" stroke-width="0.2">20</text>
<line x1="254.20" y1="366.64" x2="257.20" y2="366.64" stroke="#111" stroke-width="1.3"/>
<text x="250.90" y="369.64" font-size="8.4" fill="#3a3a3a" text-anchor="end" textLength="8.41" lengthAdjust="spacingAndGlyphs" stroke="#3a3a3a" stroke-width="0.2">30</text>
<line x1="254.20" y1="355.46" x2="257.20" y2="355.46" stroke="#111" stroke-width="1.3"/>
<text x="250.90" y="358.46" font-size="8.4" fill="#3a3a3a" text-anchor="end" textLength="8.41" lengthAdjust="spacingAndGlyphs" stroke="#3a3a3a" stroke-width="0.2">40</text>
<line x1="254.20" y1="344.27" x2="257.20" y2="344.27" stroke="#111" stroke-width="1.3"/>
<text x="250.90" y="347.27" font-size="8.4" fill="#3a3a3a" text-anchor="end" textLength="8.41" lengthAdjust="spacingAndGlyphs" stroke="#3a3a3a" stroke-width="0.2">50</text>
<line x1="254.20" y1="333.09" x2="257.20" y2="333.09" stroke="#111" stroke-width="1.3"/>
<text x="250.90" y="336.09" font-size="8.4" fill="#3a3a3a" text-anchor="end" textLength="8.41" lengthAdjust="spacingAndGlyphs" stroke="#3a3a3a" stroke-width="0.2">60</text>
<line x1="254.20" y1="321.90" x2="257.20" y2="321.90" stroke="#111" stroke-width="1.3"/>
<text x="250.90" y="324.90" font-size="8.4" fill="#3a3a3a" text-anchor="end" textLength="8.41" lengthAdjust="spacingAndGlyphs" stroke="#3a3a3a" stroke-width="0.2">70</text>
<line x1="257.20" y1="400.20" x2="324.00" y2="400.20" stroke="#111" stroke-width="1.5"/>
<line x1="321.50" y1="400.20" x2="321.50" y2="403.20" stroke="#111" stroke-width="1.3"/>
<rect x="271.50" y="337.50" width="17.70" height="62.70" fill="#ab0030" stroke="#7b0022" stroke-width="0.6"/>
<rect x="289.80" y="333.40" width="17.70" height="66.80" fill="#33508a" stroke="#243963" stroke-width="0.6"/>
<line x1="280.35" y1="327.30" x2="280.35" y2="349.50" stroke="#161616" stroke-width="1.2"/>
<line x1="277.40" y1="327.30" x2="283.30" y2="327.30" stroke="#161616" stroke-width="1.2"/>
<line x1="277.40" y1="349.50" x2="283.30" y2="349.50" stroke="#161616" stroke-width="1.2"/>
<line x1="298.65" y1="327.30" x2="298.65" y2="340.50" stroke="#161616" stroke-width="1.2"/>
<line x1="295.70" y1="327.30" x2="301.60" y2="327.30" stroke="#161616" stroke-width="1.2"/>
<line x1="295.70" y1="340.50" x2="301.60" y2="340.50" stroke="#161616" stroke-width="1.2"/>
<text x="263.00" y="413.30" font-size="8.6" fill="#3a3a3a" textLength="52.40" lengthAdjust="spacingAndGlyphs" stroke="#3a3a3a" stroke-width="0.2">CD11b+ Gr1+</text>
<text x="276.00" y="422.20" font-size="8.6" fill="#3a3a3a" textLength="26.00" lengthAdjust="spacingAndGlyphs" stroke="#3a3a3a" stroke-width="0.2">CD11c-</text>
<text x="263.00" y="431.80" font-size="8.6" fill="#3a3a3a" textLength="53.30" lengthAdjust="spacingAndGlyphs" stroke="#3a3a3a" stroke-width="0.2">(Granulocytes)</text>
<text x="237.00" y="358.90" font-size="11" fill="#3a3a3a" text-anchor="middle" textLength="45.20" lengthAdjust="spacingAndGlyphs" transform="rotate(-90 237.00 358.90)" stroke="#3a3a3a" stroke-width="0.2">% of live cells</text>
<line x1="348.20" y1="317.40" x2="348.20" y2="402.50" stroke="#111" stroke-width="1.5"/>
<line x1="345.20" y1="400.00" x2="348.20" y2="400.00" stroke="#111" stroke-width="1.3"/>
<text x="342.20" y="403.00" font-size="8.4" fill="#3a3a3a" text-anchor="end" textLength="4.58" lengthAdjust="spacingAndGlyphs" stroke="#3a3a3a" stroke-width="0.2">0</text>
<line x1="345.20" y1="386.70" x2="348.20" y2="386.70" stroke="#111" stroke-width="1.3"/>
<text x="342.20" y="389.70" font-size="8.4" fill="#3a3a3a" text-anchor="end" textLength="11.44" lengthAdjust="spacingAndGlyphs" stroke="#3a3a3a" stroke-width="0.2">0.5</text>
<line x1="345.20" y1="373.40" x2="348.20" y2="373.40" stroke="#111" stroke-width="1.3"/>
<text x="342.20" y="376.40" font-size="8.4" fill="#3a3a3a" text-anchor="end" textLength="4.58" lengthAdjust="spacingAndGlyphs" stroke="#3a3a3a" stroke-width="0.2">1</text>
<line x1="345.20" y1="360.10" x2="348.20" y2="360.10" stroke="#111" stroke-width="1.3"/>
<text x="342.20" y="363.10" font-size="8.4" fill="#3a3a3a" text-anchor="end" textLength="11.44" lengthAdjust="spacingAndGlyphs" stroke="#3a3a3a" stroke-width="0.2">1.5</text>
<line x1="345.20" y1="346.80" x2="348.20" y2="346.80" stroke="#111" stroke-width="1.3"/>
<text x="342.20" y="349.80" font-size="8.4" fill="#3a3a3a" text-anchor="end" textLength="4.58" lengthAdjust="spacingAndGlyphs" stroke="#3a3a3a" stroke-width="0.2">2</text>
<line x1="345.20" y1="333.50" x2="348.20" y2="333.50" stroke="#111" stroke-width="1.3"/>
<text x="342.20" y="336.50" font-size="8.4" fill="#3a3a3a" text-anchor="end" textLength="11.44" lengthAdjust="spacingAndGlyphs" stroke="#3a3a3a" stroke-width="0.2">2.5</text>
<line x1="345.20" y1="320.20" x2="348.20" y2="320.20" stroke="#111" stroke-width="1.3"/>
<text x="342.20" y="323.20" font-size="8.4" fill="#3a3a3a" text-anchor="end" textLength="4.58" lengthAdjust="spacingAndGlyphs" stroke="#3a3a3a" stroke-width="0.2">3</text>
<line x1="345.60" y1="400.00" x2="411.20" y2="400.00" stroke="#111" stroke-width="1.5"/>
<line x1="408.30" y1="400.00" x2="408.30" y2="403.00" stroke="#111" stroke-width="1.3"/>
<rect x="360.50" y="352.70" width="17.50" height="47.30" fill="#ab0030" stroke="#7b0022" stroke-width="0.6"/>
<rect x="378.60" y="352.70" width="17.00" height="47.30" fill="#33508a" stroke="#243963" stroke-width="0.6"/>
<line x1="369.20" y1="348.90" x2="369.20" y2="356.80" stroke="#161616" stroke-width="1.2"/>
<line x1="366.25" y1="348.90" x2="372.15" y2="348.90" stroke="#161616" stroke-width="1.2"/>
<line x1="366.25" y1="356.80" x2="372.15" y2="356.80" stroke="#161616" stroke-width="1.2"/>
<line x1="387.10" y1="335.50" x2="387.10" y2="370.30" stroke="#161616" stroke-width="1.2"/>
<line x1="384.15" y1="335.50" x2="390.05" y2="335.50" stroke="#161616" stroke-width="1.2"/>
<line x1="384.15" y1="370.30" x2="390.05" y2="370.30" stroke="#161616" stroke-width="1.2"/>
<text x="353.00" y="413.20" font-size="8.6" fill="#3a3a3a" textLength="49.50" lengthAdjust="spacingAndGlyphs" stroke="#3a3a3a" stroke-width="0.2">CD11b+ Gr1-</text>
<text x="364.00" y="422.40" font-size="8.6" fill="#3a3a3a" textLength="28.00" lengthAdjust="spacingAndGlyphs" stroke="#3a3a3a" stroke-width="0.2">CD11c-</text>
<text x="355.40" y="432.20" font-size="8.6" fill="#3a3a3a" textLength="45.20" lengthAdjust="spacingAndGlyphs" stroke="#3a3a3a" stroke-width="0.2">(Monocytes)</text>
<text x="427.60" y="301.50" font-size="11.05" fill="#111" font-weight="bold" textLength="8.60" lengthAdjust="spacingAndGlyphs" stroke="#111" stroke-width="0.6" stroke-linejoin="round">G</text>
<text x="466.70" y="302.00" font-size="10.36" fill="#3a3a3a" textLength="27.90" lengthAdjust="spacingAndGlyphs" stroke="#333" stroke-width="0.12">B-cells</text>
<line x1="451.00" y1="307.00" x2="451.00" y2="402.50" stroke="#111" stroke-width="1.5"/>
<line x1="448.00" y1="400.00" x2="451.00" y2="400.00" stroke="#111" stroke-width="1.3"/>
<text x="444.70" y="403.00" font-size="8.4" fill="#3a3a3a" text-anchor="end" textLength="4.30" lengthAdjust="spacingAndGlyphs" stroke="#3a3a3a" stroke-width="0.2">0</text>
<line x1="448.00" y1="384.90" x2="451.00" y2="384.90" stroke="#111" stroke-width="1.3"/>
<text x="444.70" y="387.90" font-size="8.4" fill="#3a3a3a" text-anchor="end" textLength="4.30" lengthAdjust="spacingAndGlyphs" stroke="#3a3a3a" stroke-width="0.2">5</text>
<line x1="448.00" y1="369.80" x2="451.00" y2="369.80" stroke="#111" stroke-width="1.3"/>
<text x="444.70" y="372.80" font-size="8.4" fill="#3a3a3a" text-anchor="end" textLength="8.59" lengthAdjust="spacingAndGlyphs" stroke="#3a3a3a" stroke-width="0.2">10</text>
<line x1="448.00" y1="354.70" x2="451.00" y2="354.70" stroke="#111" stroke-width="1.3"/>
<text x="444.70" y="357.70" font-size="8.4" fill="#3a3a3a" text-anchor="end" textLength="8.59" lengthAdjust="spacingAndGlyphs" stroke="#3a3a3a" stroke-width="0.2">15</text>
<line x1="448.00" y1="339.60" x2="451.00" y2="339.60" stroke="#111" stroke-width="1.3"/>
<text x="444.70" y="342.60" font-size="8.4" fill="#3a3a3a" text-anchor="end" textLength="8.59" lengthAdjust="spacingAndGlyphs" stroke="#3a3a3a" stroke-width="0.2">20</text>
<line x1="448.00" y1="324.50" x2="451.00" y2="324.50" stroke="#111" stroke-width="1.3"/>
<text x="444.70" y="327.50" font-size="8.4" fill="#3a3a3a" text-anchor="end" textLength="8.59" lengthAdjust="spacingAndGlyphs" stroke="#3a3a3a" stroke-width="0.2">25</text>
<line x1="448.00" y1="309.40" x2="451.00" y2="309.40" stroke="#111" stroke-width="1.3"/>
<text x="444.70" y="312.40" font-size="8.4" fill="#3a3a3a" text-anchor="end" textLength="8.59" lengthAdjust="spacingAndGlyphs" stroke="#3a3a3a" stroke-width="0.2">30</text>
<line x1="448.00" y1="400.00" x2="509.70" y2="400.00" stroke="#111" stroke-width="1.5"/>
<line x1="507.20" y1="400.00" x2="507.20" y2="403.00" stroke="#111" stroke-width="1.3"/>
<rect x="462.40" y="334.30" width="15.90" height="65.70" fill="#ab0030" stroke="#7b0022" stroke-width="0.6"/>
<rect x="478.90" y="348.50" width="16.40" height="51.50" fill="#33508a" stroke="#243963" stroke-width="0.6"/>
<line x1="470.30" y1="318.10" x2="470.30" y2="351.60" stroke="#161616" stroke-width="1.2"/>
<line x1="467.35" y1="318.10" x2="473.25" y2="318.10" stroke="#161616" stroke-width="1.2"/>
<line x1="467.35" y1="351.60" x2="473.25" y2="351.60" stroke="#161616" stroke-width="1.2"/>
<line x1="487.10" y1="336.40" x2="487.10" y2="361.40" stroke="#161616" stroke-width="1.2"/>
<line x1="484.15" y1="336.40" x2="490.05" y2="336.40" stroke="#161616" stroke-width="1.2"/>
<line x1="484.15" y1="361.40" x2="490.05" y2="361.40" stroke="#161616" stroke-width="1.2"/>
<text x="452.20" y="413.80" font-size="8.6" fill="#3a3a3a" textLength="53.00" lengthAdjust="spacingAndGlyphs" stroke="#3a3a3a" stroke-width="0.2">B220+ CD19+</text>
<text x="8.00" y="460.80" font-size="10.47" fill="#111" font-weight="bold" textLength="7.80" lengthAdjust="spacingAndGlyphs" stroke="#111" stroke-width="0.6" stroke-linejoin="round">H</text>
<text x="44.50" y="460.60" font-size="10.46" fill="#3a3a3a" textLength="91.60" lengthAdjust="spacingAndGlyphs" stroke="#333" stroke-width="0.12">Erythroid Progenitors</text>
<line x1="58.70" y1="480.00" x2="58.70" y2="554.00" stroke="#111" stroke-width="1.5"/>
<line x1="55.70" y1="551.50" x2="58.70" y2="551.50" stroke="#111" stroke-width="1.3"/>
<text x="53.80" y="554.50" font-size="8.4" fill="#3a3a3a" text-anchor="end" textLength="17.33" lengthAdjust="spacingAndGlyphs" stroke="#3a3a3a" stroke-width="0.2">0.00</text>
<line x1="55.70" y1="534.55" x2="58.70" y2="534.55" stroke="#111" stroke-width="1.3"/>
<text x="53.80" y="537.55" font-size="8.4" fill="#3a3a3a" text-anchor="end" textLength="17.33" lengthAdjust="spacingAndGlyphs" stroke="#3a3a3a" stroke-width="0.2">0.50</text>
<line x1="55.70" y1="517.60" x2="58.70" y2="517.60" stroke="#111" stroke-width="1.3"/>
<text x="53.80" y="520.60" font-size="8.4" fill="#3a3a3a" text-anchor="end" textLength="17.33" lengthAdjust="spacingAndGlyphs" stroke="#3a3a3a" stroke-width="0.2">1.00</text>
<line x1="55.70" y1="500.65" x2="58.70" y2="500.65" stroke="#111" stroke-width="1.3"/>
<text x="53.80" y="503.65" font-size="8.4" fill="#3a3a3a" text-anchor="end" textLength="17.33" lengthAdjust="spacingAndGlyphs" stroke="#3a3a3a" stroke-width="0.2">1.50</text>
<line x1="55.70" y1="483.70" x2="58.70" y2="483.70" stroke="#111" stroke-width="1.3"/>
<text x="53.80" y="486.70" font-size="8.4" fill="#3a3a3a" text-anchor="end" textLength="17.33" lengthAdjust="spacingAndGlyphs" stroke="#3a3a3a" stroke-width="0.2">2.00</text>
<line x1="56.00" y1="551.50" x2="123.30" y2="551.50" stroke="#111" stroke-width="1.5"/>
<line x1="120.50" y1="551.50" x2="120.50" y2="554.50" stroke="#111" stroke-width="1.3"/>
<rect x="71.70" y="509.40" width="17.30" height="42.10" fill="#ab0030" stroke="#7b0022" stroke-width="0.6"/>
<rect x="89.60" y="506.90" width="17.80" height="44.60" fill="#33508a" stroke="#243963" stroke-width="0.6"/>
<line x1="80.35" y1="501.70" x2="80.35" y2="517.80" stroke="#161616" stroke-width="1.2"/>
<line x1="77.40" y1="501.70" x2="83.30" y2="501.70" stroke="#161616" stroke-width="1.2"/>
<line x1="77.40" y1="517.80" x2="83.30" y2="517.80" stroke="#161616" stroke-width="1.2"/>
<line x1="98.50" y1="496.80" x2="98.50" y2="516.90" stroke="#161616" stroke-width="1.2"/>
<line x1="95.55" y1="496.80" x2="101.45" y2="496.80" stroke="#161616" stroke-width="1.2"/>
<line x1="95.55" y1="516.90" x2="101.45" y2="516.90" stroke="#161616" stroke-width="1.2"/>
<text x="78.20" y="566.20" font-size="8.6" fill="#3a3a3a" textLength="22.30" lengthAdjust="spacingAndGlyphs" stroke="#3a3a3a" stroke-width="0.2">CD71-</text>
<text x="73.00" y="575.00" font-size="8.6" fill="#3a3a3a" textLength="33.20" lengthAdjust="spacingAndGlyphs" stroke="#3a3a3a" stroke-width="0.2">TER119+</text>
<text x="32.20" y="517.55" font-size="11" fill="#3a3a3a" text-anchor="middle" textLength="42.30" lengthAdjust="spacingAndGlyphs" transform="rotate(-90 32.20 517.55)" stroke="#3a3a3a" stroke-width="0.2">% of live cells</text>
<text x="159.90" y="460.10" font-size="11.92" fill="#111" font-weight="bold" textLength="2.60" lengthAdjust="spacingAndGlyphs" stroke="#111" stroke-width="0.6" stroke-linejoin="round">I</text>
<text x="310.40" y="460.70" font-size="10.68" fill="#3a3a3a" textLength="95.40" lengthAdjust="spacingAndGlyphs" stroke="#333" stroke-width="0.12">Absolute Count Ratio</text>
<line x1="204.80" y1="466.00" x2="204.80" y2="554.30" stroke="#111" stroke-width="1.5"/>
<line x1="201.80" y1="551.80" x2="204.80" y2="551.80" stroke="#111" stroke-width="1.3"/>
<text x="199.00" y="554.80" font-size="8.4" fill="#3a3a3a" text-anchor="end" textLength="4.48" lengthAdjust="spacingAndGlyphs" stroke="#3a3a3a" stroke-width="0.2">0</text>
<line x1="201.80" y1="531.10" x2="204.80" y2="531.10" stroke="#111" stroke-width="1.3"/>
<text x="199.00" y="534.10" font-size="8.4" fill="#3a3a3a" text-anchor="end" textLength="11.21" lengthAdjust="spacingAndGlyphs" stroke="#3a3a3a" stroke-width="0.2">0.5</text>
<line x1="201.80" y1="510.40" x2="204.80" y2="510.40" stroke="#111" stroke-width="1.3"/>
<text x="199.00" y="513.40" font-size="8.4" fill="#3a3a3a" text-anchor="end" textLength="4.48" lengthAdjust="spacingAndGlyphs" stroke="#3a3a3a" stroke-width="0.2">1</text>
<line x1="201.80" y1="489.70" x2="204.80" y2="489.70" stroke="#111" stroke-width="1.3"/>
<text x="199.00" y="492.70" font-size="8.4" fill="#3a3a3a" text-anchor="end" textLength="11.21" lengthAdjust="spacingAndGlyphs" stroke="#3a3a3a" stroke-width="0.2">1.5</text>
<line x1="201.80" y1="469.00" x2="204.80" y2="469.00" stroke="#111" stroke-width="1.3"/>
<text x="199.00" y="472.00" font-size="8.4" fill="#3a3a3a" text-anchor="end" textLength="4.48" lengthAdjust="spacingAndGlyphs" stroke="#3a3a3a" stroke-width="0.2">2</text>
<line x1="203.10" y1="509.70" x2="512.50" y2="509.70" stroke="#7a2e4a" stroke-width="1.5" stroke-dasharray="3.5 1.9"/>
<line x1="202.00" y1="551.80" x2="510.90" y2="551.80" stroke="#111" stroke-width="1.5"/>
<line x1="242.64" y1="551.80" x2="242.64" y2="554.80" stroke="#111" stroke-width="1.3"/>
<line x1="280.48" y1="551.80" x2="280.48" y2="554.80" stroke="#111" stroke-width="1.3"/>
<line x1="318.31" y1="551.80" x2="318.31" y2="554.80" stroke="#111" stroke-width="1.3"/>
<line x1="356.15" y1="551.80" x2="356.15" y2="554.80" stroke="#111" stroke-width="1.3"/>
<line x1="393.99" y1="551.80" x2="393.99" y2="554.80" stroke="#111" stroke-width="1.3"/>
<line x1="431.82" y1="551.80" x2="431.82" y2="554.80" stroke="#111" stroke-width="1.3"/>
<line x1="469.66" y1="551.80" x2="469.66" y2="554.80" stroke="#111" stroke-width="1.3"/>
<line x1="507.50" y1="551.80" x2="507.50" y2="554.80" stroke="#111" stroke-width="1.3"/>
<rect x="216.20" y="528.70" width="15.70" height="23.10" fill="#cf7389"/>
<rect x="254.00" y="532.10" width="15.60" height="19.70" fill="#cf7389"/>
<rect x="292.00" y="521.20" width="15.70" height="30.60" fill="#cf7389"/>
<rect x="329.70" y="524.00" width="15.70" height="27.80" fill="#cf7389"/>
<rect x="367.30" y="528.10" width="15.90" height="23.70" fill="#cf7389"/>
<rect x="405.50" y="529.30" width="15.70" height="22.50" fill="#cf7389"/>
<rect x="443.10" y="534.40" width="15.70" height="17.40" fill="#cf7389"/>
<rect x="481.00" y="528.30" width="15.90" height="23.50" fill="#cf7389"/>
<line x1="224.05" y1="522.50" x2="224.05" y2="535.40" stroke="#161616" stroke-width="1.2"/>
<line x1="221.10" y1="522.50" x2="227.00" y2="522.50" stroke="#161616" stroke-width="1.2"/>
<line x1="221.10" y1="535.40" x2="227.00" y2="535.40" stroke="#161616" stroke-width="1.2"/>
<line x1="261.80" y1="527.70" x2="261.80" y2="537.30" stroke="#161616" stroke-width="1.2"/>
<line x1="258.85" y1="527.70" x2="264.75" y2="527.70" stroke="#161616" stroke-width="1.2"/>
<line x1="258.85" y1="537.30" x2="264.75" y2="537.30" stroke="#161616" stroke-width="1.2"/>
<line x1="299.85" y1="503.90" x2="299.85" y2="539.70" stroke="#161616" stroke-width="1.2"/>
<line x1="296.90" y1="503.90" x2="302.80" y2="503.90" stroke="#161616" stroke-width="1.2"/>
<line x1="296.90" y1="539.70" x2="302.80" y2="539.70" stroke="#161616" stroke-width="1.2"/>
<line x1="337.55" y1="509.00" x2="337.55" y2="539.70" stroke="#161616" stroke-width="1.2"/>
<line x1="334.60" y1="509.00" x2="340.50" y2="509.00" stroke="#161616" stroke-width="1.2"/>
<line x1="334.60" y1="539.70" x2="340.50" y2="539.70" stroke="#161616" stroke-width="1.2"/>
<line x1="375.25" y1="527.00" x2="375.25" y2="530.90" stroke="#161616" stroke-width="1.2"/>
<line x1="372.30" y1="527.00" x2="378.20" y2="527.00" stroke="#161616" stroke-width="1.2"/>
<line x1="372.30" y1="530.90" x2="378.20" y2="530.90" stroke="#161616" stroke-width="1.2"/>
<line x1="413.35" y1="521.90" x2="413.35" y2="538.50" stroke="#161616" stroke-width="1.2"/>
<line x1="410.40" y1="521.90" x2="416.30" y2="521.90" stroke="#161616" stroke-width="1.2"/>
<line x1="410.40" y1="538.50" x2="416.30" y2="538.50" stroke="#161616" stroke-width="1.2"/>
<line x1="450.95" y1="530.90" x2="450.95" y2="539.70" stroke="#161616" stroke-width="1.2"/>
<line x1="448.00" y1="530.90" x2="453.90" y2="530.90" stroke="#161616" stroke-width="1.2"/>
<line x1="448.00" y1="539.70" x2="453.90" y2="539.70" stroke="#161616" stroke-width="1.2"/>
<line x1="488.95" y1="523.60" x2="488.95" y2="535.00" stroke="#161616" stroke-width="1.2"/>
<line x1="486.00" y1="523.60" x2="491.90" y2="523.60" stroke="#161616" stroke-width="1.2"/>
<line x1="486.00" y1="535.00" x2="491.90" y2="535.00" stroke="#161616" stroke-width="1.2"/>
<circle cx="222.20" cy="488.00" r="1.2" fill="#222"/>
<circle cx="225.80" cy="488.00" r="1.2" fill="#222"/>
<circle cx="260.20" cy="488.00" r="1.2" fill="#222"/>
<circle cx="263.80" cy="488.00" r="1.2" fill="#222"/>
<circle cx="375.40" cy="487.70" r="1.2" fill="#222"/>
<circle cx="411.30" cy="487.70" r="1.2" fill="#222"/>
<circle cx="414.90" cy="487.70" r="1.2" fill="#222"/>
<circle cx="451.20" cy="487.70" r="1.2" fill="#222"/>
<circle cx="489.30" cy="487.70" r="1.2" fill="#222"/>
<text x="172.00" y="509.25" font-size="10.4" fill="#3a3a3a" text-anchor="middle" textLength="67.30" lengthAdjust="spacingAndGlyphs" transform="rotate(-90 172.00 509.25)" stroke="#3a3a3a" stroke-width="0.2">CDKO / control ratio</text>
<text x="182.30" y="508.85" font-size="10.4" fill="#3a3a3a" text-anchor="middle" textLength="41.90" lengthAdjust="spacingAndGlyphs" transform="rotate(-90 182.30 508.85)" stroke="#3a3a3a" stroke-width="0.2">(absolute #)</text>
<text x="230.00" y="563.50" font-size="8.4" fill="#3a3a3a" text-anchor="end" transform="rotate(-45 230.00 563.50)" stroke="#3a3a3a" stroke-width="0.2">CMP</text>
<text x="268.00" y="563.50" font-size="8.4" fill="#3a3a3a" text-anchor="end" transform="rotate(-45 268.00 563.50)" stroke="#3a3a3a" stroke-width="0.2">GMP</text>
<text x="306.00" y="563.50" font-size="8.4" fill="#3a3a3a" text-anchor="end" transform="rotate(-45 306.00 563.50)" stroke="#3a3a3a" stroke-width="0.2">MEP</text>
<text x="344.00" y="563.50" font-size="8.4" fill="#3a3a3a" text-anchor="end" transform="rotate(-45 344.00 563.50)" stroke="#3a3a3a" stroke-width="0.2">CLP</text>
<text x="382.50" y="564.50" font-size="8.4" fill="#3a3a3a" text-anchor="end" transform="rotate(-45 382.50 564.50)" stroke="#3a3a3a" stroke-width="0.2">Granulocytes</text>
<text x="419.50" y="564.50" font-size="8.4" fill="#3a3a3a" text-anchor="end" transform="rotate(-45 419.50 564.50)" stroke="#3a3a3a" stroke-width="0.2">Monocytes</text>
<text x="458.50" y="563.60" font-size="8.4" fill="#3a3a3a" text-anchor="end" transform="rotate(-45 458.50 563.60)" stroke="#3a3a3a" stroke-width="0.2">B-cells</text>
<text x="489.30" y="564.50" font-size="8.4" fill="#3a3a3a" text-anchor="end" transform="rotate(-45 489.30 564.50)" stroke="#3a3a3a" stroke-width="0.2">Erythrocyte</text>
<text x="496.00" y="571.30" font-size="8.4" fill="#3a3a3a" text-anchor="end" transform="rotate(-45 496.00 571.30)" stroke="#3a3a3a" stroke-width="0.2">progenitors</text>
<rect x="0.75" y="0.75" width="518.5" height="607.5" fill="none" stroke="#000" stroke-width="1.5"/>
</svg></body></html>
